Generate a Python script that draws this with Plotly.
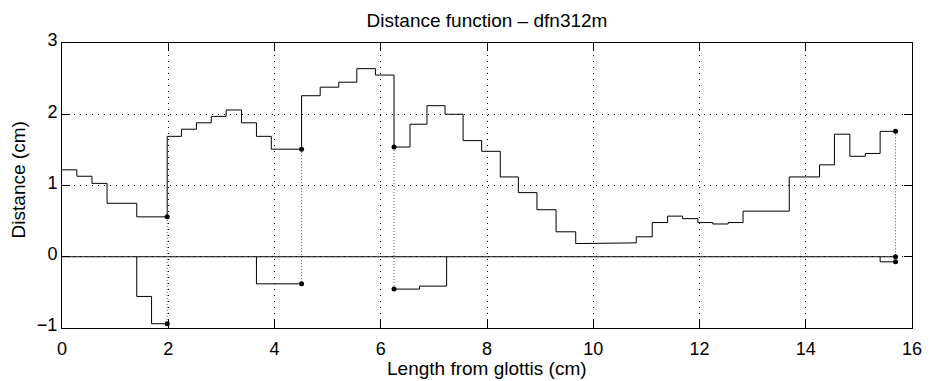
import plotly.graph_objects as go

# ---- data ----
# positive distance branch: step edges (cm) and step values (cm)
pos_edges = [0, 0.279, 0.564, 0.848, 1.407, 1.98,
             2.25, 2.53, 2.81, 3.09, 3.38, 3.66, 3.94, 4.51,
             4.86, 5.21, 5.55, 5.90, 6.25,
             6.55, 6.87, 7.21, 7.55, 7.90, 8.25, 8.59, 8.94, 9.30, 9.67,
             10.42, 10.81, 11.11, 11.40, 11.68, 11.97, 12.25, 12.54, 12.82,
             13.69, 14.26, 14.54, 14.83, 15.12, 15.40, 15.69]
pos_values = [1.22, 1.13, 1.03, 0.75, 0.56,
              1.69, 1.79, 1.88, 1.97, 2.06, 1.88, 1.69, 1.51,
              2.26, 2.38, 2.45, 2.64, 2.55,
              1.54, 1.86, 2.12, 2.00, 1.63, 1.48, 1.12, 0.90, 0.66, 0.35, 0.185,
              0.195, 0.28, 0.48, 0.57, 0.535, 0.48, 0.46, 0.48, 0.64,
              1.12, 1.29, 1.72, 1.41, 1.45, 1.76]

# negative branches: step edges and values (0 = on the axis)
neg1_edges = [1.407, 1.407, 1.686, 1.98]
neg1_values = [0, -0.557, -0.94]
neg2_edges = [3.66, 3.66, 4.51]
neg2_values = [0, -0.38]
neg3_edges = [6.25, 6.73, 7.24, 7.24]
neg3_values = [-0.454, -0.412, 0]
neg4_edges = [15.40, 15.40, 15.69]
neg4_values = [0, -0.071]

# section ends: x position, upper value, lower value
mark_x = [1.98, 4.51, 6.25, 15.69]
mark_upper = [0.56, 1.51, 1.54, 1.76]
mark_lower = [-0.94, -0.38, -0.454, -0.071]
extra_mark_x = [15.69]
extra_mark_y = [0]

axis_end = 15.69
x_ticks = [0, 2, 4, 6, 8, 10, 12, 14, 16]
y_ticks = [-1, 0, 1, 2, 3]

title_text = "Distance function \u2013 dfn312m"
x_label = "Length from glottis (cm)"
y_label = "Distance (cm)"


def stairs(edges, values):
    xs, ys = [], []
    for i, v in enumerate(values):
        xs += [edges[i], edges[i + 1]]
        ys += [v, v]
    return xs, ys


fig = go.Figure()
line = dict(color="black", width=1)

fig.add_trace(go.Scatter(x=[0, axis_end], y=[0, 0], mode="lines", line=line))

px_, py_ = stairs(pos_edges, pos_values)
fig.add_trace(go.Scatter(x=px_, y=py_, mode="lines", line=line))

for e, v in [(neg1_edges, neg1_values), (neg2_edges, neg2_values),
             (neg3_edges, neg3_values), (neg4_edges, neg4_values)]:
    xs, ys = stairs(e, v)
    fig.add_trace(go.Scatter(x=xs, y=ys, mode="lines", line=line))

# dotted connectors
for x, u, l in zip(mark_x, mark_upper, mark_lower):
    fig.add_trace(go.Scatter(x=[x, x], y=[u, l], mode="lines",
                             line=dict(color="#555555", width=1, dash="1px,2px")))

fig.add_trace(go.Scatter(x=mark_x + mark_x + extra_mark_x,
                         y=mark_upper + mark_lower + extra_mark_y,
                         mode="markers",
                         marker=dict(color="black", size=5)))

font = "Liberation Sans, Arial, sans-serif"
fig.update_layout(
    width=933, height=381,
    margin=dict(l=62, r=11, t=43, b=53),
    paper_bgcolor="white", plot_bgcolor="white",
    showlegend=False,
    font=dict(family=font, size=18, color="black"),
    title=dict(text=title_text, x=0.5, xref="paper",
               xanchor="center", y=1 - 20 / 381, yref="container",
               yanchor="middle", font=dict(size=19, color="black")),
    annotations=[
        dict(text=x_label, x=0.5, y=-0.143, xref="paper", yref="paper",
             xanchor="center", yanchor="middle", showarrow=False,
             font=dict(size=19)),
        dict(text=y_label, x=-0.0514, y=0.519, xref="paper", yref="paper",
             xanchor="center", yanchor="middle", showarrow=False,
             textangle=-90, font=dict(size=19)),
    ],
)
fig.update_xaxes(
    range=[0, 16], tickvals=x_ticks, ticks="inside", ticklen=8,
    tickcolor="black", showline=True, linecolor="black", linewidth=1,
    mirror="ticks", showgrid=True, gridcolor="black", griddash="1px,5px",
    gridwidth=1, zeroline=False, ticklabelstandoff=4,
)
fig.update_yaxes(
    range=[-1, 3], tickvals=y_ticks, ticks="inside", ticklen=8,
    tickcolor="black", showline=True, linecolor="black", linewidth=1,
    mirror="ticks", showgrid=True, gridcolor="black", griddash="1px,5px",
    gridwidth=1, zeroline=False, ticklabelshift=-3,
)

fig.write_html("out.html")
